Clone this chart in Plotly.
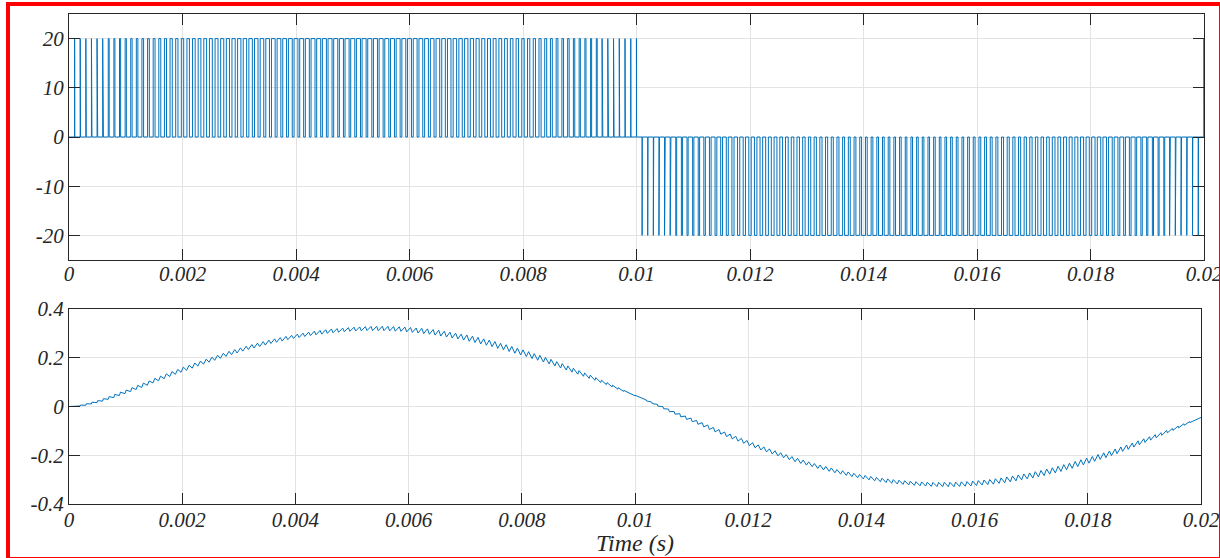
import plotly.graph_objects as go

# ---------------- data ----------------
T_SW = 1e-4          # switching period (s) - 10 kHz
V_DC = 20            # pulse level (V)

# duty cycle of each switching pulse, positive half (pulses k = 1..100)
duty_pos = [0.02, 0.05, 0.07, 0.09, 0.11, 0.13, 0.16, 0.18, 0.20, 0.22,
            0.24, 0.27, 0.29, 0.31, 0.33, 0.35, 0.37, 0.39, 0.40, 0.42,
            0.44, 0.46, 0.48, 0.49, 0.51, 0.52, 0.54, 0.55, 0.57, 0.58,
            0.60, 0.61, 0.62, 0.63, 0.64, 0.65, 0.66, 0.67, 0.68, 0.68,
            0.69, 0.70, 0.70, 0.71, 0.71, 0.71, 0.72, 0.72, 0.72, 0.72,
            0.72, 0.72, 0.72, 0.71, 0.71, 0.71, 0.70, 0.70, 0.69, 0.68,
            0.68, 0.67, 0.66, 0.65, 0.64, 0.63, 0.62, 0.61, 0.60, 0.58,
            0.57, 0.55, 0.54, 0.52, 0.51, 0.49, 0.48, 0.46, 0.44, 0.42,
            0.40, 0.39, 0.37, 0.35, 0.33, 0.31, 0.29, 0.27, 0.24, 0.22,
            0.20, 0.18, 0.16, 0.13, 0.11, 0.09, 0.07, 0.05, 0.02, 0.02]
# duty cycle of each switching pulse, negative half (pulses k = 101..199)
duty_neg = [0.02, 0.05, 0.07, 0.09, 0.11, 0.13, 0.16, 0.18, 0.20, 0.22,
            0.24, 0.27, 0.29, 0.31, 0.33, 0.35, 0.37, 0.39, 0.40, 0.42,
            0.44, 0.46, 0.48, 0.49, 0.51, 0.52, 0.54, 0.55, 0.57, 0.58,
            0.60, 0.61, 0.62, 0.63, 0.64, 0.65, 0.66, 0.67, 0.68, 0.68,
            0.69, 0.70, 0.70, 0.71, 0.71, 0.71, 0.72, 0.72, 0.72, 0.72,
            0.72, 0.72, 0.72, 0.71, 0.71, 0.71, 0.70, 0.70, 0.69, 0.68,
            0.68, 0.67, 0.66, 0.65, 0.64, 0.63, 0.62, 0.61, 0.60, 0.58,
            0.57, 0.55, 0.54, 0.52, 0.51, 0.49, 0.48, 0.46, 0.44, 0.42,
            0.40, 0.39, 0.37, 0.35, 0.33, 0.31, 0.29, 0.27, 0.24, 0.22,
            0.20, 0.18, 0.16, 0.13, 0.11, 0.09, 0.07, 0.05, 0.02]
duty_end = 0.02      # pulse that starts at the right edge (k = 200)

# mean load current in each switching period (A), k = 0..100
i_mean_pos = [0.000,
              0.001, 0.004, 0.008, 0.014, 0.020, 0.027, 0.035, 0.043, 0.052, 0.060,
              0.069, 0.078, 0.087, 0.096, 0.106, 0.115, 0.124, 0.133, 0.142, 0.151,
              0.159, 0.168, 0.176, 0.184, 0.192, 0.200, 0.208, 0.216, 0.223, 0.230,
              0.237, 0.244, 0.250, 0.256, 0.262, 0.268, 0.273, 0.278, 0.283, 0.288,
              0.292, 0.296, 0.300, 0.303, 0.306, 0.309, 0.311, 0.313, 0.315, 0.317,
              0.318, 0.319, 0.320, 0.320, 0.320, 0.320, 0.319, 0.318, 0.317, 0.315,
              0.313, 0.311, 0.309, 0.306, 0.303, 0.299, 0.295, 0.291, 0.287, 0.283,
              0.278, 0.273, 0.267, 0.262, 0.256, 0.249, 0.243, 0.236, 0.229, 0.222,
              0.215, 0.207, 0.200, 0.192, 0.184, 0.175, 0.167, 0.158, 0.149, 0.140,
              0.131, 0.122, 0.113, 0.103, 0.094, 0.084, 0.074, 0.064, 0.055, 0.045]
# mean load current, k = 101..200
i_mean_neg = [0.035, 0.025, 0.015, 0.005, -0.005, -0.016, -0.026, -0.036, -0.046, -0.055,
              -0.065, -0.075, -0.085, -0.095, -0.104, -0.114, -0.123, -0.132, -0.141, -0.150,
              -0.159, -0.168, -0.176, -0.184, -0.192, -0.200, -0.208, -0.216, -0.223, -0.230,
              -0.237, -0.244, -0.250, -0.256, -0.262, -0.268, -0.273, -0.278, -0.283, -0.288,
              -0.292, -0.296, -0.300, -0.303, -0.306, -0.309, -0.311, -0.313, -0.315, -0.317,
              -0.318, -0.319, -0.320, -0.320, -0.320, -0.320, -0.319, -0.318, -0.317, -0.315,
              -0.313, -0.311, -0.309, -0.306, -0.303, -0.299, -0.295, -0.291, -0.287, -0.283,
              -0.278, -0.273, -0.267, -0.262, -0.256, -0.249, -0.243, -0.236, -0.229, -0.222,
              -0.215, -0.207, -0.200, -0.192, -0.184, -0.175, -0.167, -0.158, -0.149, -0.140,
              -0.131, -0.122, -0.113, -0.103, -0.094, -0.084, -0.074, -0.064, -0.055, -0.045]

# peak-to-peak current ripple in each switching period (A), k = 1..100
ripple_pos = [0.002, 0.004, 0.006, 0.007, 0.008, 0.010, 0.011, 0.013, 0.014, 0.015,
              0.016, 0.017, 0.018, 0.018, 0.019, 0.019, 0.020, 0.020, 0.020, 0.021,
              0.021, 0.021, 0.021, 0.021, 0.021, 0.021, 0.021, 0.021, 0.021, 0.021,
              0.020, 0.020, 0.020, 0.020, 0.020, 0.019, 0.019, 0.019, 0.018, 0.018,
              0.018, 0.018, 0.018, 0.018, 0.018, 0.018, 0.017, 0.017, 0.017, 0.017,
              0.017, 0.017, 0.017, 0.018, 0.018, 0.018, 0.018, 0.018, 0.018, 0.018,
              0.018, 0.019, 0.019, 0.019, 0.020, 0.020, 0.020, 0.020, 0.020, 0.021,
              0.021, 0.021, 0.021, 0.021, 0.021, 0.021, 0.021, 0.021, 0.021, 0.021,
              0.020, 0.020, 0.020, 0.019, 0.019, 0.018, 0.018, 0.017, 0.016, 0.015,
              0.014, 0.013, 0.011, 0.010, 0.008, 0.007, 0.006, 0.004, 0.002, 0.002]
# peak-to-peak current ripple, k = 101..199
ripple_neg = [0.002, 0.004, 0.006, 0.007, 0.008, 0.010, 0.011, 0.013, 0.014, 0.015,
              0.016, 0.017, 0.018, 0.018, 0.019, 0.019, 0.020, 0.020, 0.020, 0.021,
              0.021, 0.021, 0.021, 0.021, 0.021, 0.021, 0.021, 0.021, 0.021, 0.021,
              0.020, 0.020, 0.020, 0.020, 0.020, 0.019, 0.019, 0.019, 0.018, 0.018,
              0.018, 0.018, 0.018, 0.018, 0.018, 0.018, 0.017, 0.017, 0.017, 0.017,
              0.017, 0.017, 0.017, 0.018, 0.018, 0.018, 0.018, 0.018, 0.018, 0.018,
              0.018, 0.019, 0.019, 0.019, 0.020, 0.020, 0.020, 0.020, 0.020, 0.021,
              0.021, 0.021, 0.021, 0.021, 0.021, 0.021, 0.021, 0.021, 0.021, 0.021,
              0.020, 0.020, 0.020, 0.019, 0.019, 0.018, 0.018, 0.017, 0.016, 0.015,
              0.014, 0.013, 0.011, 0.010, 0.008, 0.007, 0.006, 0.004, 0.002]

x_tick_vals = [0, 0.002, 0.004, 0.006, 0.008, 0.01, 0.012, 0.014, 0.016, 0.018, 0.02]
x_tick_text = ["0", "0.002", "0.004", "0.006", "0.008", "0.01",
               "0.012", "0.014", "0.016", "0.018", "0.02"]
v_tick_vals = [-20, -10, 0, 10, 20]
v_tick_text = ["-20", "-10", "0", "10", "20"]
i_tick_vals = [-0.4, -0.2, 0, 0.2, 0.4]
i_tick_text = ["-0.4", "-0.2", "0", "0.2", "0.4"]
x_title = "Time (s)"

# ---------------- build traces ----------------
pulses = ([(k, d, 1) for k, d in enumerate(duty_pos, start=1)] +
          [(k, d, -1) for k, d in enumerate(duty_neg, start=101)] +
          [(200, duty_end, 1)])
means = i_mean_pos + i_mean_neg
ripples = ripple_pos + ripple_neg + [0.0]

vx, vy = [0.0], [0.0]
ix, iy = [0.0], [means[0]]
for (k, d, s), r in zip(pulses, ripples):
    t0 = k * T_SW - d * T_SW / 2
    t1 = k * T_SW + d * T_SW / 2
    vx += [t0, t0, t1, t1]
    vy += [0, s * V_DC, s * V_DC, 0]
    m = means[k]
    ix += [t0, t1]
    iy += [m - s * r / 2, m + s * r / 2]

LINE = "#0072BD"
fig = go.Figure()
fig.add_trace(go.Scatter(x=vx, y=vy, mode="lines", line=dict(color=LINE, width=1),
                         xaxis="x", yaxis="y", showlegend=False, hoverinfo="skip"))
fig.add_trace(go.Scatter(x=ix, y=iy, mode="lines", line=dict(color=LINE, width=1),
                         xaxis="x2", yaxis="y2", showlegend=False, hoverinfo="skip"))

# ---------------- layout ----------------
W, H = 1220, 558
L, R, TOP, BOT = 69, 16, 14, 54
PW, PH = W - L - R, H - TOP - BOT


def py(p):
    return (H - BOT - p) / PH


def px(p):
    return (p - L) / PW


tick_font = dict(family="Liberation Serif", size=21, color="#262626", style="italic")
title_font = dict(family="Liberation Serif", size=24, color="#262626", style="italic")
axis_common = dict(showline=True, linecolor="#262626", linewidth=1, mirror="ticks",
                   ticks="inside", ticklen=11, tickwidth=1, tickcolor="#262626",
                   showgrid=True, gridcolor="#e3e3e3", gridwidth=1, zeroline=False,
                   tickfont=tick_font, automargin=False, ticklabeloverflow="allow")

fig.update_layout(
    template="none",
    width=W, height=H, autosize=False,
    margin=dict(l=L, r=R, t=TOP, b=BOT, pad=0),
    paper_bgcolor="white", plot_bgcolor="white",
    xaxis=dict(domain=[0, 1], range=[0, 0.02], anchor="y", ticklabelstandoff=-5,
               tickvals=x_tick_vals, ticktext=x_tick_text, **axis_common),
    yaxis=dict(domain=[py(260), 1], range=[-25, 25], anchor="x",
               tickvals=v_tick_vals, ticktext=v_tick_text, **axis_common),
    xaxis2=dict(domain=[0, px(1201)], range=[0, 0.02], anchor="y2", ticklabelstandoff=-3,
                tickvals=x_tick_vals, ticktext=x_tick_text, **axis_common),
    yaxis2=dict(domain=[0, py(309)], range=[-0.4, 0.4], anchor="x2",
                tickvals=i_tick_vals, ticktext=i_tick_text, **axis_common),
    annotations=[dict(text=x_title, xref="paper", yref="paper",
                      x=px(635), y=py(543), xanchor="center", yanchor="middle",
                      showarrow=False, font=title_font)],
    shapes=[dict(type="rect", xref="paper", yref="paper",
                 x0=px(8), x1=px(1221), y0=py(559), y1=py(4),
                 line=dict(color="#ff0000", width=4), fillcolor="rgba(0,0,0,0)",
                 layer="above")],
)

fig.write_html("out.html")
